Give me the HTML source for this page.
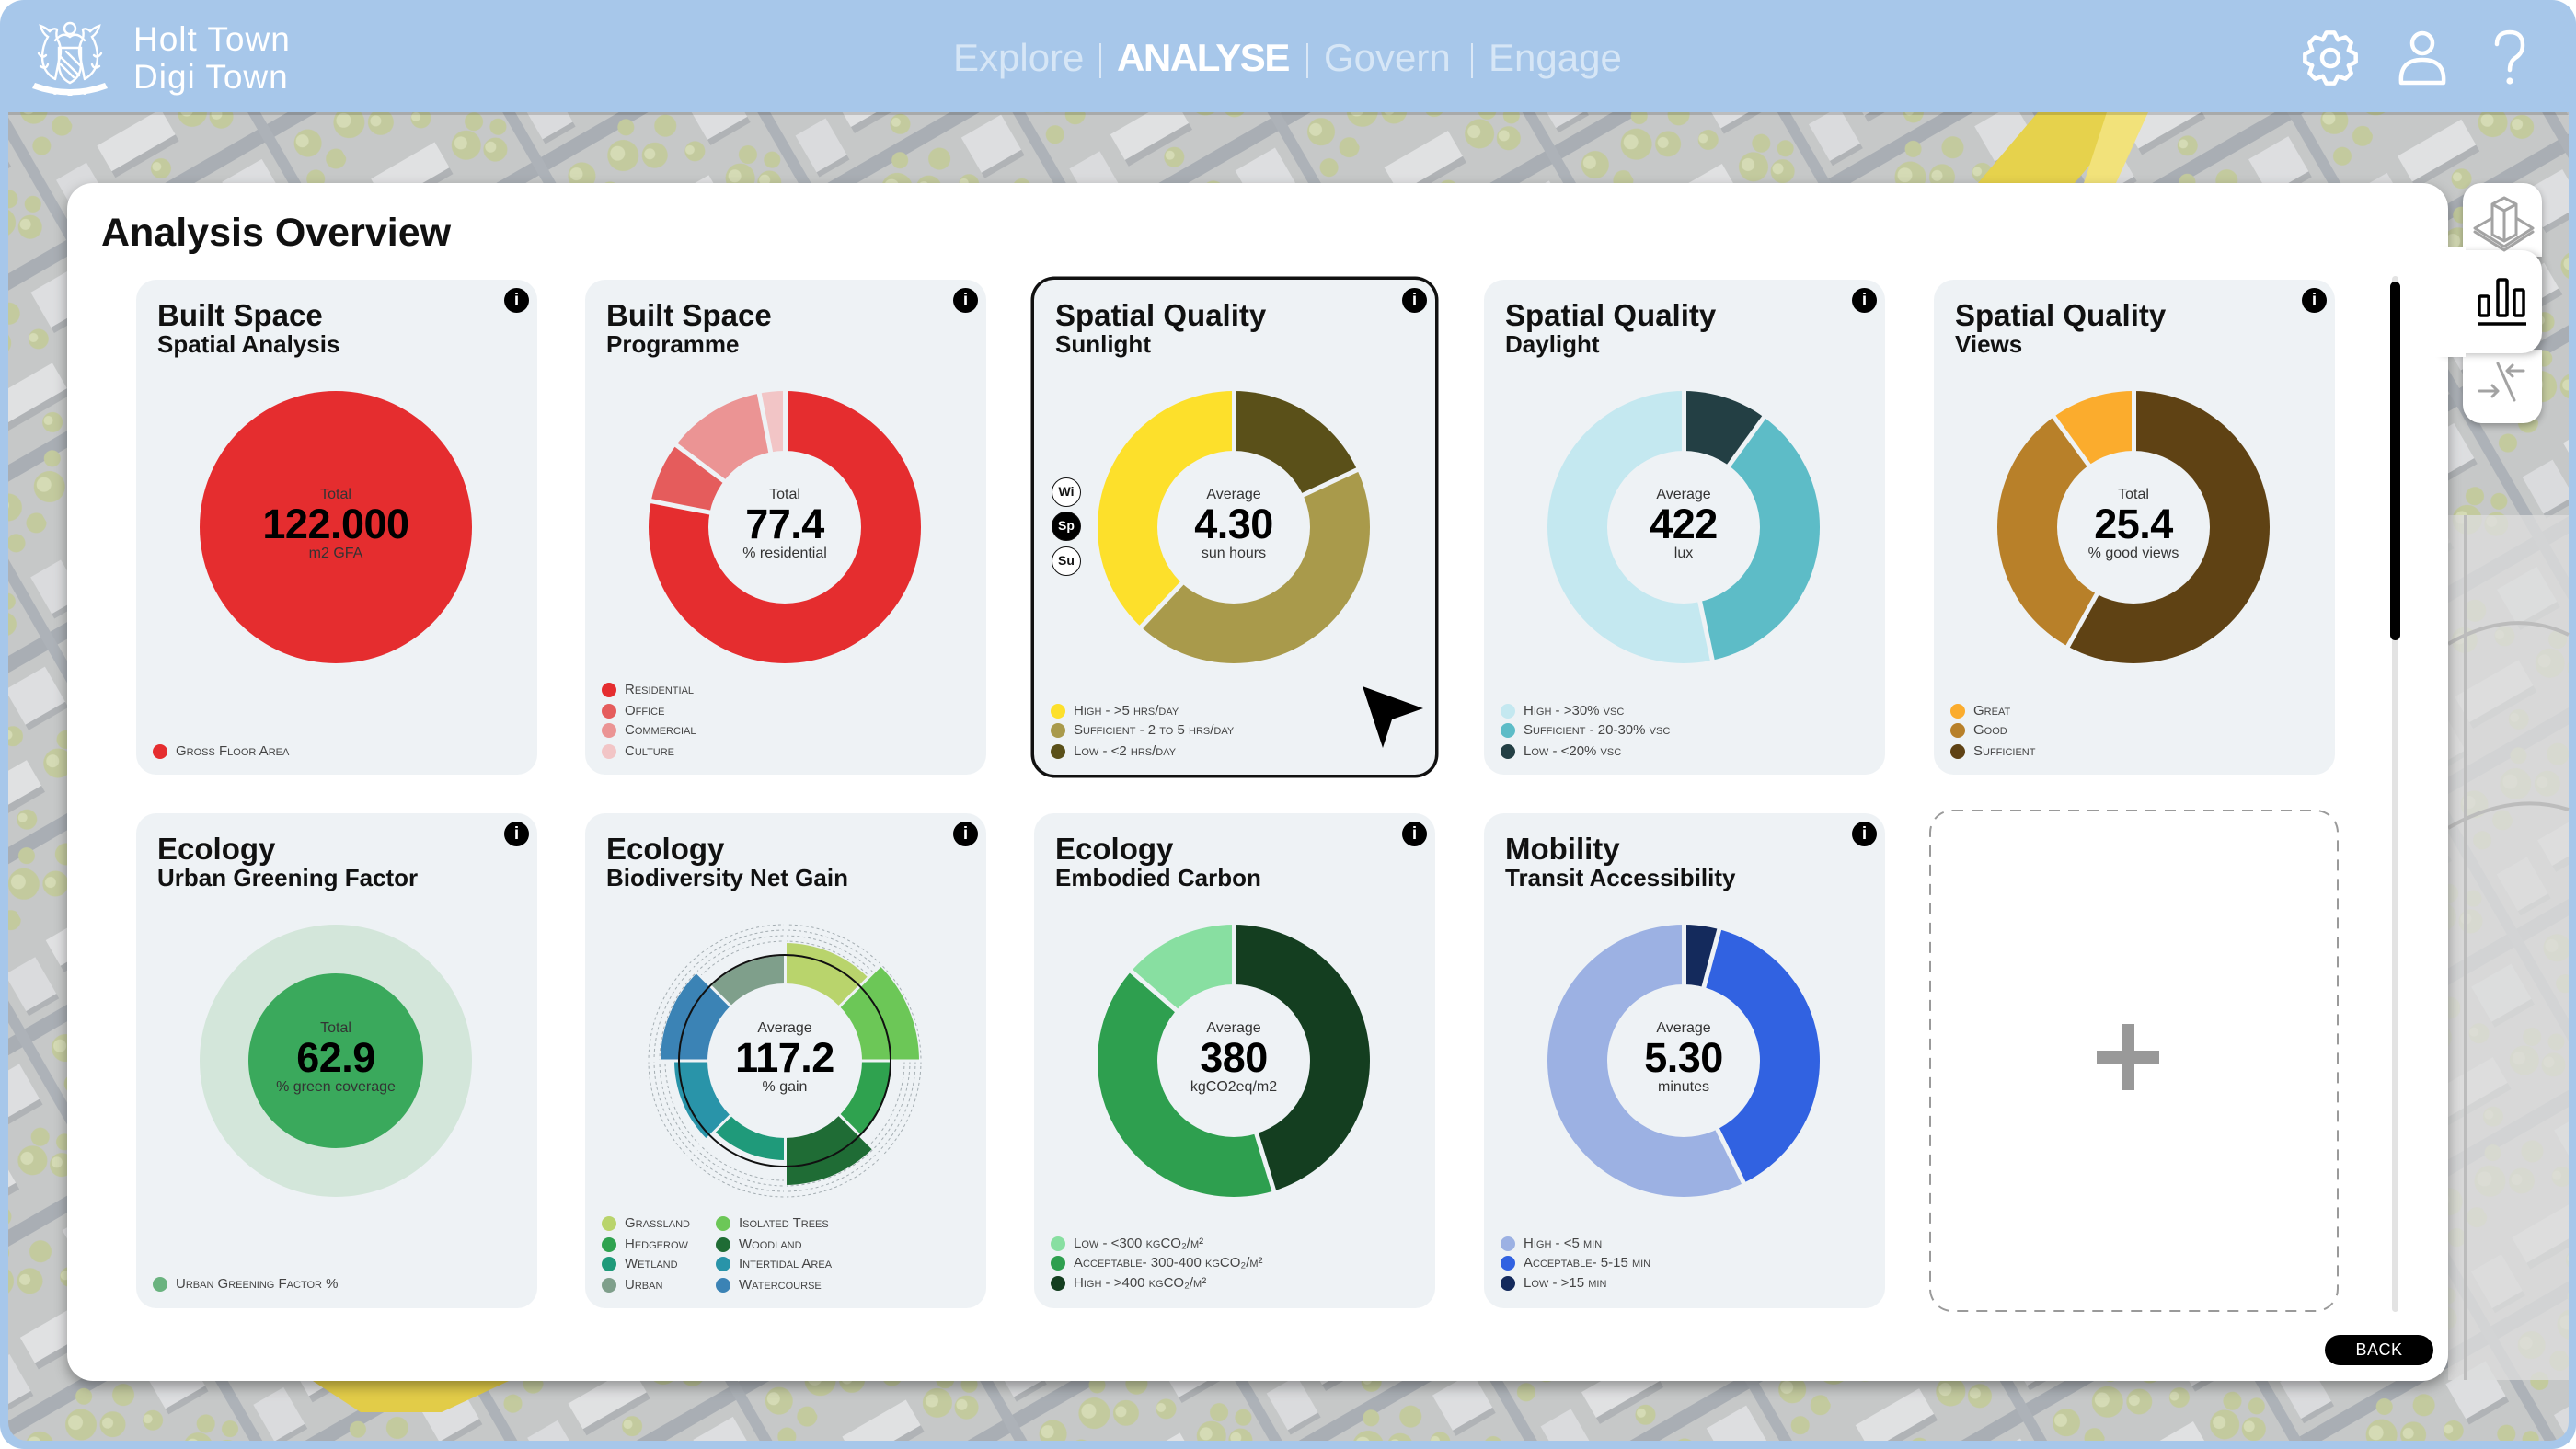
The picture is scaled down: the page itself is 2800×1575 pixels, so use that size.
<!DOCTYPE html>
<html><head><meta charset="utf-8">
<style>
*{margin:0;padding:0;box-sizing:border-box}
html,body{width:2800px;height:1575px;overflow:hidden;background:#fff;font-family:"Liberation Sans",sans-serif;position:relative}
.abs{position:absolute}
.card{position:absolute;width:436px;height:538px;background:#eef2f5;border-radius:22px}
.t1{position:absolute;left:23px;top:22px;font-size:33px;font-weight:bold;line-height:1;color:#111;white-space:nowrap}
.t2{position:absolute;left:23px;top:57px;font-size:26px;font-weight:bold;line-height:1;color:#111;white-space:nowrap}
.info{position:absolute;right:9px;top:9px;width:27px;height:27px;border-radius:50%;background:#000;color:#fff;font-weight:bold;font-size:19px;line-height:27px;text-align:center}
.ch{position:absolute;left:69px;top:121px;width:296px;height:296px}
.ring{position:absolute;left:0;top:0;width:296px;height:296px;border-radius:50%}
.hole{position:absolute;left:65px;top:65px;width:166px;height:166px;border-radius:50%;background:#eef2f5}
.sep{position:absolute;left:145.5px;top:-2px;width:5px;height:150px;background:#eef2f5;transform-origin:2.5px 150px}
.sep3{position:absolute;left:146.5px;top:-2px;width:3px;height:150px;background:#eef2f5;transform-origin:1.5px 150px}
.seg{position:absolute;border-radius:50%}
.c1,.c2,.c3{position:absolute;left:67px;width:300px;text-align:center;line-height:1;white-space:nowrap}
.c1{top:226px;font-size:16px;color:#333}
.c2{top:243px;font-size:45px;font-weight:bold;color:#000;letter-spacing:-0.5px}
.c3{top:290px;font-size:16px;color:#333}
.lg{position:absolute;left:18px;padding-left:25px;height:16px;font-size:15px;line-height:16px;font-variant:small-caps;color:#444;white-space:nowrap}
.lg i{position:absolute;left:0;top:0;width:16px;height:16px;border-radius:50%}
.tg{position:absolute;left:19px;width:32px;height:32px;border-radius:50%;border:1.5px solid #111;background:#fff;color:#111;font-size:14px;font-weight:bold;line-height:29px;text-align:center}
.nav{position:absolute;top:42px;font-size:42px;line-height:1;white-space:nowrap;color:#d6e6f6}
.bar{position:absolute;top:47px;width:2px;height:38px;background:#dbe8f6}
</style></head><body>

<!-- frame + map -->
<svg class="abs" style="left:0;top:0" width="2800" height="1575">
<defs>
<pattern id="city" width="240" height="180" patternUnits="userSpaceOnUse" patternTransform="rotate(-30)">
<rect width="240" height="180" fill="#c6c8c8"/>
<rect y="82" width="240" height="16" fill="#a9aeb4"/>
<rect x="172" width="12" height="180" fill="#adb2b8"/>
<rect x="12" y="10" width="80" height="32" fill="#e0e1e2"/>
<rect x="12" y="42" width="80" height="8" fill="#b0b3b6"/>
<rect x="110" y="112" width="50" height="44" fill="#dddee0"/>
<rect x="110" y="156" width="50" height="7" fill="#b0b3b6"/>
<rect x="195" y="20" width="38" height="46" fill="#dadbdd"/>
<rect x="195" y="66" width="38" height="6" fill="#b0b3b6"/>
<g fill="#c3ca9e">
<circle cx="120" cy="30" r="16"/><circle cx="145" cy="50" r="13"/><circle cx="22" cy="125" r="17"/><circle cx="52" cy="142" r="14"/><circle cx="78" cy="120" r="12"/><circle cx="212" cy="122" r="15"/><circle cx="230" cy="152" r="11"/><circle cx="60" cy="66" r="11"/><circle cx="140" cy="12" r="10"/><circle cx="92" cy="160" r="11"/><circle cx="160" cy="30" r="9"/><circle cx="40" cy="100" r="9"/><circle cx="200" cy="160" r="10"/>
</g>
<g fill="#d5dbb5">
<circle cx="116" cy="25" r="7"/><circle cx="142" cy="45" r="6"/><circle cx="18" cy="120" r="8"/><circle cx="48" cy="138" r="6"/><circle cx="208" cy="117" r="7"/><circle cx="57" cy="62" r="5"/><circle cx="88" cy="156" r="5"/>
</g>
</pattern>
</defs>
<rect width="2800" height="1575" rx="26" fill="#a7c7ea"/>
<rect x="9" y="122" width="2783" height="1444" rx="20" fill="url(#city)"/>
<rect x="9" y="122" width="2783" height="40" fill="url(#city)"/>
<rect x="2661" y="560" width="131" height="940" fill="#dcdcdc" opacity="0.8"/>
<path d="M2661,700 Q2730,660 2792,690 M2661,900 Q2730,860 2792,880 M2680,560 L2680,1500" stroke="#bcbcbc" stroke-width="4" fill="none"/>
<polygon points="2215,122 2320,122 2255,199 2150,199" fill="#e6d24c"/>
<polygon points="2290,122 2335,122 2300,199 2265,199" fill="#f2e27a"/>
<polygon points="340,1501 553,1501 480,1535 392,1535" fill="#e2cc48"/>
<rect x="9" y="122" width="2783" height="3" fill="#000" opacity="0.15"/>
</svg>

<!-- header -->
<svg class="abs" style="left:30px;top:22px" width="92" height="82" viewBox="0 0 92 82">
<g fill="none" stroke="#fff" stroke-width="2.4" stroke-linecap="round">
<circle cx="46" cy="9" r="6"/>
<path d="M30,22 q8,-10 16,-4 q8,-6 16,4"/>
<path d="M34,30 h24 v18 q0,14 -12,20 q-12,-6 -12,-20 z"/>
<path d="M36,40 l20,20 M36,48 l14,14 M42,34 l16,16"/>
<path d="M30,64 q-14,-8 -14,-24 q0,-12 6,-22 q-6,-4 -8,-12 q6,2 10,6 q4,-4 8,-2 q-2,8 2,14 q4,10 0,20 q-2,10 -4,20"/>
<path d="M62,64 q14,-8 14,-24 q0,-12 -6,-22 q6,-4 8,-12 q-6,2 -10,6 q-4,-4 -8,-2 q2,8 -2,14 q-4,10 0,20 q2,10 4,20"/>
<path d="M12,36 q4,6 8,2 M80,36 q-4,6 -8,2 M14,50 q6,4 8,-2 M78,50 q-6,4 -8,-2"/>
</g>
<path d="M8,68 q38,14 76,0 l3,6 q-41,15 -82,0 z" fill="#fff"/>
<g fill="#fff"><circle cx="30" cy="78" r="3"/><circle cx="46" cy="80" r="3"/><circle cx="62" cy="78" r="3"/></g>
</svg>
<div class="abs" style="left:145px;top:24px;font-size:37px;line-height:1;color:#fff;letter-spacing:1px;white-space:nowrap">Holt Town</div>
<div class="abs" style="left:145px;top:65px;font-size:37px;line-height:1;color:#fff;letter-spacing:1px;white-space:nowrap">Digi Town</div>

<div class="nav" style="left:1036px">Explore</div>
<div class="bar" style="left:1195px"></div>
<div class="nav" style="left:1214px;color:#fff;font-weight:bold;letter-spacing:-1.4px">ANALYSE</div>
<div class="bar" style="left:1420px"></div>
<div class="nav" style="left:1439px">Govern</div>
<div class="bar" style="left:1599px"></div>
<div class="nav" style="left:1618px">Engage</div>

<svg class="abs" style="left:0;top:0" width="2800" height="122">
<g fill="none" stroke="#fff" stroke-width="4.5" stroke-linejoin="round" stroke-linecap="round">
<g transform="translate(2533,63)">
<path d="M-8.23,-19.86 L-4.38,-27.66 L4.38,-27.66 L8.23,-19.86"/>
<path d="M-8.23,-19.86 L-4.38,-27.66 L4.38,-27.66 L8.23,-19.86" transform="rotate(45)"/>
<path d="M-8.23,-19.86 L-4.38,-27.66 L4.38,-27.66 L8.23,-19.86" transform="rotate(90)"/>
<path d="M-8.23,-19.86 L-4.38,-27.66 L4.38,-27.66 L8.23,-19.86" transform="rotate(135)"/>
<path d="M-8.23,-19.86 L-4.38,-27.66 L4.38,-27.66 L8.23,-19.86" transform="rotate(180)"/>
<path d="M-8.23,-19.86 L-4.38,-27.66 L4.38,-27.66 L8.23,-19.86" transform="rotate(225)"/>
<path d="M-8.23,-19.86 L-4.38,-27.66 L4.38,-27.66 L8.23,-19.86" transform="rotate(270)"/>
<path d="M-8.23,-19.86 L-4.38,-27.66 L4.38,-27.66 L8.23,-19.86" transform="rotate(315)"/>
<circle r="9"/>
</g>
<circle cx="2633" cy="47" r="11"/>
<path d="M2610,90 Q2608,65 2633,65 Q2658,65 2656,90 Z"/>
<path d="M2714,48 Q2714,35 2728,35 Q2742,35 2742,49 Q2742,58 2734,63 Q2728,67 2728,76"/>
</g>
<circle cx="2728" cy="88" r="3.6" fill="#fff"/>
</svg>

<!-- main panel -->
<div class="abs" style="left:73px;top:199px;width:2588px;height:1302px;background:#fff;border-radius:28px;box-shadow:0 6px 14px rgba(0,0,0,0.35)"></div>

<!-- side tabs -->
<div class="abs" style="left:2677px;top:199px;width:86px;height:80px;background:#fff;border-radius:20px 20px 0 0;box-shadow:0 3px 8px rgba(0,0,0,0.3)"></div>
<div class="abs" style="left:2677px;top:380px;width:86px;height:80px;background:#fff;border-radius:0 0 20px 20px;box-shadow:0 3px 8px rgba(0,0,0,0.3)"></div>
<div class="abs" style="left:2650px;top:272px;width:113px;height:112px;background:#fff;border-radius:0 22px 22px 0;box-shadow:4px 2px 8px rgba(0,0,0,0.25)"></div>
<div class="abs" style="left:2640px;top:268px;width:40px;height:120px;background:#fff"></div>
<svg class="abs" style="left:0;top:0" width="2800" height="470">
<g fill="none" stroke="#a3a3a3" stroke-width="3" stroke-linejoin="round" stroke-linecap="round">
<path d="M2722,215 L2735,222 L2722,229 L2709,222 Z M2709,222 L2709,255 L2722,262 L2735,255 L2735,222 M2722,229 L2722,262"/>
<path d="M2709,237 L2690,248 L2722,268 L2753,248 L2735,237 M2690,252 L2722,272 L2753,252"/>
<path d="M2715,395 L2733,435 M2743,403 L2725,403 M2731,397 L2725,403 L2731,409 M2695,425 L2715,425 M2709,419 L2715,425 L2709,431"/>
</g>
<g fill="none" stroke="#000" stroke-width="3.5" stroke-linejoin="round">
<rect x="2695" y="322" width="10" height="21" rx="1.5"/>
<rect x="2715" y="304" width="10" height="39" rx="1.5"/>
<rect x="2733" y="315" width="10" height="28" rx="1.5"/>
<path d="M2694,352 L2746,352"/>
</g>
</svg>

<!-- title -->
<div class="abs" style="left:110px;top:232px;font-size:43px;font-weight:bold;line-height:1;color:#111;white-space:nowrap">Analysis Overview</div>

<!-- scrollbar -->
<div class="abs" style="left:2600px;top:300px;width:7px;height:1126px;background:#e3e3e3;border-radius:4px"></div>
<div class="abs" style="left:2598px;top:306px;width:11px;height:390px;background:#000;border-radius:6px"></div>

<!-- ROW 1 -->
<div class="card" style="left:148px;top:304px">
<div class="t1">Built Space</div><div class="t2">Spatial Analysis</div><div class="info">i</div>
<div class="ch"><div class="ring" style="background:#e52d2f"></div></div>
<div class="c1">Total</div><div class="c2">122.000</div><div class="c3">m2 GFA</div>
<div class="lg" style="top:505px"><i style="background:#e52d2f"></i>Gross Floor Area</div>
</div>

<div class="card" style="left:636px;top:304px">
<div class="t1">Built Space</div><div class="t2">Programme</div><div class="info">i</div>
<div class="ch"><div class="ring" style="background:conic-gradient(#e52d2f 0deg 281deg,#e55c5c 281deg 307deg,#eb9494 307deg 349deg,#f2c5c6 349deg 360deg)"></div>
<div class="sep" style="transform:rotate(0deg)"></div><div class="sep" style="transform:rotate(281deg)"></div><div class="sep" style="transform:rotate(307deg)"></div><div class="sep" style="transform:rotate(349deg)"></div>
<div class="hole"></div></div>
<div class="c1">Total</div><div class="c2">77.4</div><div class="c3">% residential</div>
<div class="lg" style="top:438px"><i style="background:#e52d2f"></i>Residential</div>
<div class="lg" style="top:461px"><i style="background:#e55c5c"></i>Office</div>
<div class="lg" style="top:482px"><i style="background:#eb9494"></i>Commercial</div>
<div class="lg" style="top:505px"><i style="background:#f2c5c6"></i>Culture</div>
</div>

<div class="card" style="left:1124px;top:304px;box-shadow:0 0 0 3.5px #111">
<div class="t1">Spatial Quality</div><div class="t2">Sunlight</div><div class="info">i</div>
<div class="ch"><div class="ring" style="background:conic-gradient(#5a5019 0deg 65deg,#a99a4b 65deg 223deg,#fde02b 223deg 360deg)"></div>
<div class="sep" style="transform:rotate(0deg)"></div><div class="sep" style="transform:rotate(65deg)"></div><div class="sep" style="transform:rotate(223deg)"></div>
<div class="hole"></div></div>
<div class="c1">Average</div><div class="c2">4.30</div><div class="c3">sun hours</div>
<div class="tg" style="top:215px">Wi</div>
<div class="tg" style="top:252px;background:#000;color:#fff">Sp</div>
<div class="tg" style="top:290px">Su</div>
<div class="lg" style="top:461px"><i style="background:#fde02b"></i>High - &gt;5 hrs/day</div>
<div class="lg" style="top:482px"><i style="background:#a99a4b"></i>Sufficient - 2 to 5 hrs/day</div>
<div class="lg" style="top:505px"><i style="background:#5a5019"></i>Low - &lt;2 hrs/day</div>
</div>

<div class="card" style="left:1613px;top:304px">
<div class="t1">Spatial Quality</div><div class="t2">Daylight</div><div class="info">i</div>
<div class="ch"><div class="ring" style="background:conic-gradient(#233f44 0deg 36deg,#5dbcc7 36deg 168deg,#c4e8f0 168deg 360deg)"></div>
<div class="sep" style="transform:rotate(0deg)"></div><div class="sep" style="transform:rotate(36deg)"></div><div class="sep" style="transform:rotate(168deg)"></div>
<div class="hole"></div></div>
<div class="c1">Average</div><div class="c2">422</div><div class="c3">lux</div>
<div class="lg" style="top:461px"><i style="background:#c4e8f0"></i>High - &gt;30% vsc</div>
<div class="lg" style="top:482px"><i style="background:#5dbcc7"></i>Sufficient - 20-30% vsc</div>
<div class="lg" style="top:505px"><i style="background:#233f44"></i>Low - &lt;20% vsc</div>
</div>

<div class="card" style="left:2102px;top:304px">
<div class="t1">Spatial Quality</div><div class="t2">Views</div><div class="info">i</div>
<div class="ch"><div class="ring" style="background:conic-gradient(#5f4214 0deg 209deg,#b88029 209deg 324deg,#fbac2d 324deg 360deg)"></div>
<div class="sep" style="transform:rotate(0deg)"></div><div class="sep" style="transform:rotate(209deg)"></div><div class="sep" style="transform:rotate(324deg)"></div>
<div class="hole"></div></div>
<div class="c1">Total</div><div class="c2">25.4</div><div class="c3">% good views</div>
<div class="lg" style="top:461px"><i style="background:#fbac2d"></i>Great</div>
<div class="lg" style="top:482px"><i style="background:#b88029"></i>Good</div>
<div class="lg" style="top:505px"><i style="background:#5f4214"></i>Sufficient</div>
</div>

<!-- cursor -->
<svg class="abs" style="left:0;top:0" width="1600" height="830"><polygon points="1481,746 1547,770 1513,782 1503,813" fill="#000"/></svg>

<!-- ROW 2 -->
<div class="card" style="left:148px;top:884px">
<div class="t1">Ecology</div><div class="t2">Urban Greening Factor</div><div class="info">i</div>
<div class="ch"><div class="ring" style="background:#d3e6da"></div>
<div class="seg" style="left:53px;top:53px;width:190px;height:190px;background:#3aa95c"></div></div>
<div class="c1">Total</div><div class="c2">62.9</div><div class="c3">% green coverage</div>
<div class="lg" style="top:504px"><i style="background:#6ab37f"></i>Urban Greening Factor %</div>
</div>

<div class="card" style="left:636px;top:884px">
<div class="t1">Ecology</div><div class="t2">Biodiversity Net Gain</div><div class="info">i</div>
<div class="ch">
<svg class="abs" style="left:-2px;top:-2px" width="300" height="300"><g fill="none" stroke="#8c979c" stroke-width="1" stroke-dasharray="3 3" opacity="0.75"><circle cx="150" cy="150" r="130"/><circle cx="150" cy="150" r="136"/><circle cx="150" cy="150" r="142"/><circle cx="150" cy="150" r="148"/></g></svg>
<div class="seg" style="left:20px;top:20px;width:256px;height:256px;background:conic-gradient(#b9d46c 0deg 45deg,transparent 45deg)"></div>
<div class="seg" style="left:2px;top:2px;width:292px;height:292px;background:conic-gradient(transparent 0deg 45deg,#6cc757 45deg 90deg,transparent 90deg)"></div>
<div class="seg" style="left:32px;top:32px;width:232px;height:232px;background:conic-gradient(transparent 0deg 90deg,#2fa24f 90deg 135deg,transparent 135deg)"></div>
<div class="seg" style="left:13px;top:13px;width:270px;height:270px;background:conic-gradient(transparent 0deg 135deg,#1f6c35 135deg 180deg,transparent 180deg)"></div>
<div class="seg" style="left:40px;top:40px;width:216px;height:216px;background:conic-gradient(transparent 0deg 180deg,#1f9a7a 180deg 225deg,transparent 225deg)"></div>
<div class="seg" style="left:28px;top:28px;width:240px;height:240px;background:conic-gradient(transparent 0deg 225deg,#2994a9 225deg 270deg,transparent 270deg)"></div>
<div class="seg" style="left:13px;top:13px;width:270px;height:270px;background:conic-gradient(transparent 0deg 270deg,#3b83b5 270deg 315deg,transparent 315deg)"></div>
<div class="seg" style="left:34px;top:34px;width:228px;height:228px;background:conic-gradient(transparent 0deg 315deg,#7f9f8b 315deg 360deg)"></div>
<div class="sep3" style="transform:rotate(0deg)"></div><div class="sep3" style="transform:rotate(45deg)"></div><div class="sep3" style="transform:rotate(90deg)"></div><div class="sep3" style="transform:rotate(135deg)"></div><div class="sep3" style="transform:rotate(180deg)"></div><div class="sep3" style="transform:rotate(225deg)"></div><div class="sep3" style="transform:rotate(270deg)"></div><div class="sep3" style="transform:rotate(315deg)"></div>
<div class="seg" style="left:64px;top:64px;width:168px;height:168px;background:#eef2f5"></div>
<div class="seg" style="left:32px;top:32px;width:232px;height:232px;border:2.5px solid #111"></div>
</div>
<div class="c1">Average</div><div class="c2">117.2</div><div class="c3">% gain</div>
<div class="lg" style="top:438px"><i style="background:#b9d46c"></i>Grassland</div>
<div class="lg" style="top:461px"><i style="background:#2fa24f"></i>Hedgerow</div>
<div class="lg" style="top:482px"><i style="background:#1f9a7a"></i>Wetland</div>
<div class="lg" style="top:505px"><i style="background:#7f9f8b"></i>Urban</div>
<div class="lg" style="top:438px;left:142px"><i style="background:#6cc757"></i>Isolated Trees</div>
<div class="lg" style="top:461px;left:142px"><i style="background:#1f6c35"></i>Woodland</div>
<div class="lg" style="top:482px;left:142px"><i style="background:#2994a9"></i>Intertidal Area</div>
<div class="lg" style="top:505px;left:142px"><i style="background:#3b83b5"></i>Watercourse</div>
</div>

<div class="card" style="left:1124px;top:884px">
<div class="t1">Ecology</div><div class="t2">Embodied Carbon</div><div class="info">i</div>
<div class="ch"><div class="ring" style="background:conic-gradient(#143e20 0deg 163deg,#2e9f4f 163deg 311deg,#88dfa1 311deg 360deg)"></div>
<div class="sep" style="transform:rotate(0deg)"></div><div class="sep" style="transform:rotate(163deg)"></div><div class="sep" style="transform:rotate(311deg)"></div>
<div class="hole"></div></div>
<div class="c1">Average</div><div class="c2">380</div><div class="c3">kgCO2eq/m2</div>
<div class="lg" style="top:460px"><i style="background:#88dfa1"></i>Low - &lt;300 kgCO₂/m²</div>
<div class="lg" style="top:481px"><i style="background:#2e9f4f"></i>Acceptable- 300-400 kgCO₂/m²</div>
<div class="lg" style="top:503px"><i style="background:#143e20"></i>High - &gt;400 kgCO₂/m²</div>
</div>

<div class="card" style="left:1613px;top:884px">
<div class="t1">Mobility</div><div class="t2">Transit Accessibility</div><div class="info">i</div>
<div class="ch"><div class="ring" style="background:conic-gradient(#142a5c 0deg 15deg,#3162e1 15deg 154deg,#9cb1e3 154deg 360deg)"></div>
<div class="sep" style="transform:rotate(0deg)"></div><div class="sep" style="transform:rotate(15deg)"></div><div class="sep" style="transform:rotate(154deg)"></div>
<div class="hole"></div></div>
<div class="c1">Average</div><div class="c2">5.30</div><div class="c3">minutes</div>
<div class="lg" style="top:460px"><i style="background:#9cb1e3"></i>High - &lt;5 min</div>
<div class="lg" style="top:481px"><i style="background:#3162e1"></i>Acceptable- 5-15 min</div>
<div class="lg" style="top:503px"><i style="background:#142a5c"></i>Low - &gt;15 min</div>
</div>

<!-- empty add card -->
<svg class="abs" style="left:2097px;top:880px" width="445" height="546"><rect x="1" y="1" width="443" height="544" rx="24" fill="none" stroke="#9a9a9a" stroke-width="2" stroke-dasharray="12 9"/></svg>
<div class="abs" style="left:2279px;top:1142px;width:68px;height:14px;background:#999"></div>
<div class="abs" style="left:2306px;top:1113px;width:14px;height:72px;background:#999"></div>

<!-- back button -->
<div class="abs" style="left:2527px;top:1451px;width:118px;height:33px;border-radius:17px;background:#000;color:#fff;font-size:18px;line-height:33px;text-align:center;letter-spacing:0.5px">BACK</div>

</body></html>
